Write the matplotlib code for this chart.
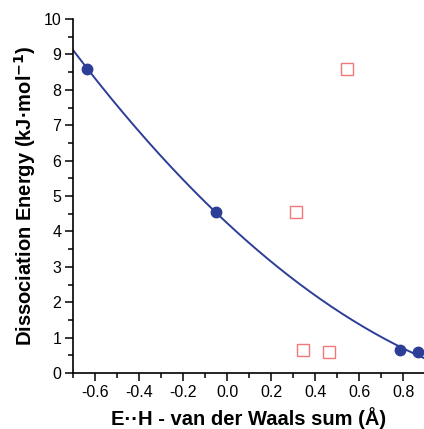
import matplotlib
matplotlib.use('Agg')
import matplotlib.pyplot as plt
from matplotlib.ticker import MultipleLocator
import numpy as np

plt.rcParams['font.family'] = ['Liberation Sans', 'DejaVu Sans']

# filled circles (fitted series)
x_fit = [-0.636, -0.05, 0.788, 0.867]
y_fit = [8.60, 4.55, 0.64, 0.58]

# open squares
x_sq = [0.545, 0.314, 0.344, 0.464]
y_sq = [8.60, 4.55, 0.64, 0.58]

blue = '#2d3e98'
red = '#f07878'

fig = plt.figure(figsize=(4.24, 4.29), dpi=100)
ax = fig.add_axes([73/424, 56/429, 351/424, 354/429])

coef = np.polyfit(x_fit, y_fit, 2)
xs = np.linspace(-0.7, 0.9, 200)
ax.plot(xs, np.polyval(coef, xs), color=blue, lw=1.4)
ax.plot(x_fit, y_fit, 'o', color=blue, ms=7.5, mec=blue)
ax.plot(x_sq, y_sq, 's', mfc='none', mec=red, ms=8, mew=1.0)

ax.set_xlim(-0.7, 0.895)
ax.set_ylim(0, 10)
ax.xaxis.set_minor_locator(MultipleLocator(0.1))
ax.yaxis.set_major_locator(MultipleLocator(1))
ax.yaxis.set_minor_locator(MultipleLocator(0.5))
ax.set_xticks(np.arange(-0.6, 0.81, 0.2))
ax.set_xticklabels(['-0.6', '-0.4', '-0.2', '0.0', '0.2', '0.4', '0.6', '0.8'])
ax.spines['top'].set_visible(False)
ax.spines['right'].set_visible(False)
for s in ['left', 'bottom']:
    ax.spines[s].set_linewidth(1.2)
ax.tick_params(which='major', direction='out', length=5.5, width=1.1, labelsize=11.5, pad=3)
ax.tick_params(which='minor', direction='out', length=3.5, width=1.1)

ax.set_xlabel('E\u00b7\u00b7H - van der Waals sum (\u00c5)', fontsize=14.5, fontweight='bold', labelpad=5)
ax.set_ylabel('Dissociation Energy (kJ\u00b7mol$^{\\mathbf{-1}}$)', fontsize=14.5, fontweight='bold', labelpad=4)

fig.savefig('out.png', dpi=100)
